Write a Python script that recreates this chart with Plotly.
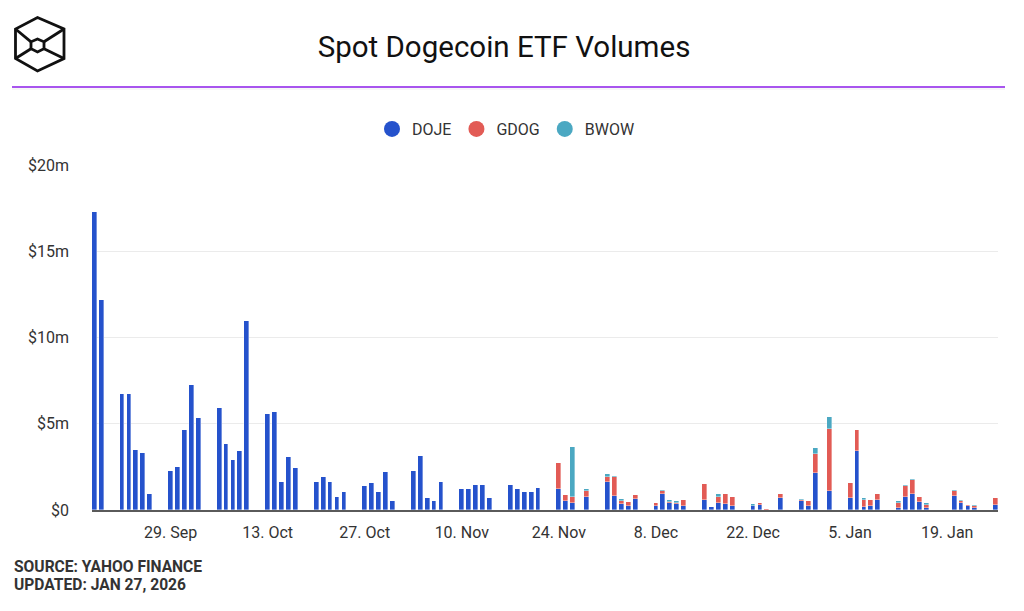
import plotly.graph_objects as go

# ---------------- data (values in $ millions) ----------------
dates = [
    "2025-09-18", "2025-09-19",
    "2025-09-22", "2025-09-23", "2025-09-24", "2025-09-25", "2025-09-26",
    "2025-09-29", "2025-09-30", "2025-10-01", "2025-10-02", "2025-10-03",
    "2025-10-06", "2025-10-07", "2025-10-08", "2025-10-09", "2025-10-10",
    "2025-10-13", "2025-10-14", "2025-10-15", "2025-10-16", "2025-10-17",
    "2025-10-20", "2025-10-21", "2025-10-22", "2025-10-23", "2025-10-24",
    "2025-10-27", "2025-10-28", "2025-10-29", "2025-10-30", "2025-10-31",
    "2025-11-03", "2025-11-04", "2025-11-05", "2025-11-06", "2025-11-07",
    "2025-11-10", "2025-11-11", "2025-11-12", "2025-11-13", "2025-11-14",
    "2025-11-17", "2025-11-18", "2025-11-19", "2025-11-20", "2025-11-21",
    "2025-11-24", "2025-11-25", "2025-11-26", "2025-11-28",
    "2025-12-01", "2025-12-02", "2025-12-03", "2025-12-04", "2025-12-05",
    "2025-12-08", "2025-12-09", "2025-12-10", "2025-12-11", "2025-12-12",
    "2025-12-15", "2025-12-16", "2025-12-17", "2025-12-18", "2025-12-19",
    "2025-12-22", "2025-12-23", "2025-12-24", "2025-12-26",
    "2025-12-29", "2025-12-30", "2025-12-31", "2026-01-02",
    "2026-01-05", "2026-01-06", "2026-01-07", "2026-01-08", "2026-01-09",
    "2026-01-12", "2026-01-13", "2026-01-14", "2026-01-15", "2026-01-16",
    "2026-01-20", "2026-01-21", "2026-01-22", "2026-01-23",
    "2026-01-26",
]

doje = [
    17.26, 12.19,
    6.73, 6.73, 3.49, 3.29, 0.94,
    2.25, 2.52, 4.65, 7.26, 5.32,
    5.94, 3.84, 2.87, 3.41, 10.95,
    5.59, 5.67, 1.65, 3.06, 2.42,
    1.65, 1.92, 1.65, 0.77, 1.03,
    1.38, 1.57, 1.03, 2.19, 0.51,
    2.27, 3.14, 0.69, 0.51, 1.65,
    1.21, 1.21, 1.46, 1.46, 0.69,
    1.46, 1.21, 1.03, 1.03, 1.29,
    1.21, 0.51, 0.42, 0.77,
    1.65, 0.83, 0.37, 0.22, 0.66,
    0.22, 0.94, 0.39, 0.33, 0.22,
    0.59, 0.16, 0.43, 0.33, 0.22,
    0.22, 0.30, 0.02, 0.69,
    0.51, 0.25, 2.17, 1.10,
    0.69, 3.41, 0.20, 0.22, 0.57,
    0.13, 0.75, 0.93, 0.48, 0.13,
    0.83, 0.38, 0.21, 0.12,
    0.30,
]

gdog = [
    0, 0,
    0, 0, 0, 0, 0,
    0, 0, 0, 0, 0,
    0, 0, 0, 0, 0,
    0, 0, 0, 0, 0,
    0, 0, 0, 0, 0,
    0, 0, 0, 0, 0,
    0, 0, 0, 0, 0,
    0, 0, 0, 0, 0,
    0, 0, 0, 0, 0,
    1.50, 0.35, 0.32, 0.36,
    0.25, 1.07, 0.14, 0.27, 0.20,
    0.20, 0.15, 0.09, 0.10, 0.37,
    0.89, 0.02, 0.31, 0.61, 0.52,
    0.03, 0.12, 0.05, 0.25,
    0.08, 0.28, 1.06, 3.57,
    0.86, 1.20, 0.39, 0.37, 0.36,
    0.29, 0.64, 0.81, 0.27, 0.17,
    0.25, 0.14, 0.09, 0.09,
    0.37,
]

bwow = [
    0, 0,
    0, 0, 0, 0, 0,
    0, 0, 0, 0, 0,
    0, 0, 0, 0, 0,
    0, 0, 0, 0, 0,
    0, 0, 0, 0, 0,
    0, 0, 0, 0, 0,
    0, 0, 0, 0, 0,
    0, 0, 0, 0, 0,
    0, 0, 0, 0, 0,
    0, 0, 2.92, 0.08,
    0.17, 0.10, 0.15, 0, 0,
    0, 0.06, 0.11, 0.08, 0,
    0, 0, 0.20, 0, 0,
    0.07, 0, 0, 0,
    0.03, 0, 0.34, 0.74,
    0, 0, 0.08, 0, 0,
    0.08, 0.08, 0.07, 0, 0.08,
    0.10, 0.08, 0, 0.09,
    0,
]

series_names = ["DOJE", "GDOG", "BWOW"]
series_values = [doje, gdog, bwow]
series_colors = ["#2552CC", "#E25B55", "#4BA8C2"]

x_tick_dates = ["2025-09-29", "2025-10-13", "2025-10-27", "2025-11-10", "2025-11-24",
                "2025-12-08", "2025-12-22", "2026-01-05", "2026-01-19"]
x_tick_labels = ["29. Sep", "13. Oct", "27. Oct", "10. Nov", "24. Nov",
                 "8. Dec", "22. Dec", "5. Jan", "19. Jan"]
y_tick_values = [0, 5, 10, 15, 20]
y_tick_labels = ["$0", "$5m", "$10m", "$15m", "$20m"]

# ---------------- figure ----------------
W, H = 1024, 611
L, R, T, B = 92, 26, 165, 101
PW, PH = W - L - R, H - T - B

def px(x):
    return (x - L) / PW

def py(y):
    return (H - B - y) / PH

DAY_MS = 86400000
fig = go.Figure()
for name, vals, col in zip(series_names, series_values, series_colors):
    fig.add_trace(go.Bar(
        x=dates, y=[v * 1e6 for v in vals], name=name,
        marker=dict(color=col, line=dict(color="rgba(255,255,255,0.6)", width=0.6)),
        width=0.7 * DAY_MS, showlegend=False,
    ))
    fig.add_trace(go.Scatter(
        x=[None], y=[None], mode="markers", name=name,
        marker=dict(color=col, size=16, symbol="circle"), showlegend=True,
    ))

fig.update_layout(
    width=W, height=H,
    margin=dict(l=L, r=R, t=T, b=B),
    paper_bgcolor="white", plot_bgcolor="white",
    barmode="stack", bargap=0,
    font=dict(family="Roboto", color="#333333"),
    title=dict(text="Spot Dogecoin ETF Volumes", x=504 / W, xanchor="center",
               y=1 - 47 / H, yanchor="middle", yref="container",
               font=dict(family="Roboto", size=29.5, color="#111111")),
    legend=dict(orientation="h", traceorder="normal",
                x=px(372), xanchor="left", y=py(129), yanchor="middle",
                font=dict(size=16, color="#333333"), itemsizing="trace",
                bgcolor="rgba(0,0,0,0)"),
    showlegend=True,
)

fig.update_xaxes(
    type="date",
    range=["2025-09-17 16:00", "2026-01-26 08:00"],
    tickvals=x_tick_dates, ticktext=x_tick_labels,
    tickfont=dict(size=16, color="#333333"),
    ticks="", showgrid=False, zeroline=False,
    showline=True, linecolor="#5a5a5a", linewidth=2,
    ticklabelstandoff=7,
)
fig.update_yaxes(
    range=[0, 20e6],
    tickvals=[v * 1e6 for v in y_tick_values], ticktext=y_tick_labels,
    tickfont=dict(size=16, color="#333333"),
    ticks="", showgrid=True, gridcolor="#ebebeb", gridwidth=1,
    zeroline=False, showline=False,
    ticklabelstandoff=22,
)

# header line
fig.add_shape(type="line", xref="paper", yref="paper",
              x0=px(12), x1=px(1005), y0=py(87), y1=py(87),
              line=dict(color="#A855EE", width=2))
fig.add_shape(type="line", xref="paper", yref="paper",
              x0=px(12), x1=px(1005), y0=py(89), y1=py(89),
              line=dict(color="#eeeeee", width=1))

# logo
def path(points, close=True):
    s = "M " + " L ".join(f"{px(x):.5f},{py(y):.5f}" for x, y in points)
    return s + (" Z" if close else "")

logo_style = dict(color="#111111", width=2.8)
outer = [(37.5, 17.5), (64, 29), (64, 58.5), (37.5, 71), (15.5, 58.5), (15.5, 29)]
inner = [(37.5, 39), (44, 41.8), (44, 48.7), (37.5, 52), (31, 48.7), (31, 41.8)]
fig.add_shape(type="path", xref="paper", yref="paper", path=path(outer), line=logo_style)
fig.add_shape(type="path", xref="paper", yref="paper", path=path(inner), line=logo_style)
for a, b in [((15.5, 29), (31, 41.8)), ((64, 29), (44, 41.8)),
             ((15.5, 58.5), (31, 48.7)), ((64, 58.5), (44, 48.7))]:
    fig.add_shape(type="path", xref="paper", yref="paper", path=path([a, b], close=False), line=logo_style)

# footer
for txt, yy in [("SOURCE: YAHOO FINANCE", 566.5), ("UPDATED: JAN 27, 2026", 584.5)]:
    fig.add_annotation(text=f"<b>{txt}</b>", xref="paper", yref="paper",
                       x=px(12), y=py(yy), xanchor="left", yanchor="middle",
                       showarrow=False, font=dict(family="Roboto", size=15.6, color="#333333"))

fig.write_html("out.html")
